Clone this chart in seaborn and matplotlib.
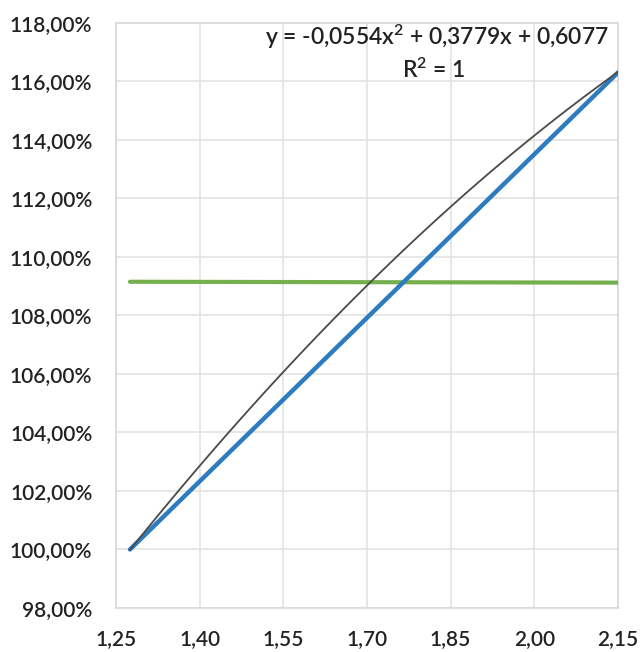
import numpy as np
import pandas as pd
import seaborn as sns
import matplotlib

matplotlib.use("Agg")
import matplotlib.pyplot as plt
from matplotlib.ticker import FixedLocator, FuncFormatter

# values (x in plain units, y in percent)
curve_x = [1.275, 1.50, 1.70, 1.90, 2.15]
curve_y = [100.0, 105.0, 109.0, 112.6, 116.3]
line_x = [1.275, 2.15]
line_y = [100.0, 116.3]
level_x = [1.275, 2.15]
level_y = [109.15, 109.12]

x_ticks = [1.25, 1.40, 1.55, 1.70, 1.85, 2.00, 2.15]
y_ticks = [98, 100, 102, 104, 106, 108, 110, 112, 114, 116, 118]

eq_text = "y = -0,0554x$^{2}$ + 0,3779x + 0,6077"
r2_text = "R$^{2}$ = 1"

sns.set_style("white")
plt.rcParams["font.family"] = ["Lato", "DejaVu Sans"]
plt.rcParams["mathtext.fontset"] = "custom"
plt.rcParams["mathtext.rm"] = "Lato:semibold"
plt.rcParams["mathtext.it"] = "Lato:semibold"
plt.rcParams["mathtext.default"] = "rm"

text_color = "#222222"
grid_color = "#e3e3e3"

fig = plt.figure(figsize=(6.41, 6.52), dpi=100)
ax = fig.add_axes([0.181, 0.0675, 0.783, 0.8975])

curve_df = pd.DataFrame({"x": curve_x, "y": curve_y})
line_df = pd.DataFrame({"x": line_x, "y": line_y})
level_df = pd.DataFrame({"x": level_x, "y": level_y})

# green horizontal series
sns.lineplot(data=level_df, x="x", y="y", ax=ax, color="#76B04E", linewidth=3,
             solid_capstyle="round", zorder=3)
# blue straight series
sns.lineplot(data=line_df, x="x", y="y", ax=ax, color="#2E7CC0", linewidth=3.2,
             solid_capstyle="round", zorder=4)
# polynomial trendline (order 2)
sns.regplot(data=curve_df, x="x", y="y", ax=ax, order=2, ci=None, scatter=False,
            truncate=True, line_kws={"color": "#4a4a4a", "linewidth": 1.3, "zorder": 5})

ax.set_xlim(1.25, 2.15)
ax.set_ylim(98, 118)
ax.xaxis.set_major_locator(FixedLocator(x_ticks))
ax.yaxis.set_major_locator(FixedLocator(y_ticks))
ax.xaxis.set_major_formatter(FuncFormatter(lambda v, p: f"{v:.2f}".replace(".", ",")))
ax.yaxis.set_major_formatter(FuncFormatter(lambda v, p: f"{v:.2f}%".replace(".", ",")))
ax.grid(True, color=grid_color, linewidth=1.2)
ax.set_axisbelow(True)
ax.set_xlabel("")
ax.set_ylabel("")
ax.tick_params(axis="both", length=0, labelsize=15, colors=text_color)
ax.tick_params(axis="x", pad=15)
ax.tick_params(axis="y", pad=17)
for lbl in ax.get_xticklabels() + ax.get_yticklabels():
    lbl.set_fontweight("semibold")
for s in ax.spines.values():
    s.set_color("#d9d9d9")
    s.set_linewidth(1.2)

fig.text(0.682, 0.943, eq_text, ha="center", va="center", fontsize=16.5,
         fontweight="semibold", color=text_color)
fig.text(0.677, 0.893, r2_text, ha="center", va="center", fontsize=16.5,
         fontweight="semibold", color=text_color)

fig.savefig("out.png", dpi=100)
plt.close(fig)
